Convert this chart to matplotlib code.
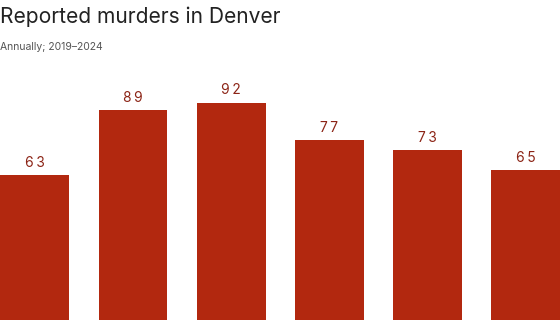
import matplotlib
matplotlib.use("Agg")
import matplotlib.pyplot as plt

# data
years = ["2019", "2020", "2021", "2022", "2023", "2024"]
murders = [63, 89, 92, 77, 73, 65]

bar_color = "#b2280f"
label_color = "#8c2416"

plt.rcParams["font.family"] = ["Inter", "DejaVu Sans"]

fig = plt.figure(figsize=(5.6, 3.2), dpi=100)
ax = fig.add_axes([0, 0, 1, 1])
ax.patch.set_alpha(0)

x = range(len(years))
bars = ax.bar(x, murders, width=0.7, color=bar_color)

# value labels, spaced out a little like the original
for rect, v in zip(bars, murders):
    ax.annotate(" ".join(str(v)).replace(" ", "\u2009"),
                (rect.get_x() + rect.get_width() / 2, v),
                xytext=(0, 4), textcoords="offset points",
                ha="center", va="bottom", fontsize=10, color=label_color)

ax.set_xlim(-0.355, 5.35)
ax.set_ylim(5.19, 133.0)
ax.axis("off")

fig.text(0.0, 1 - 23 / 320, "Reported murders in Denver", fontsize=15.1,
         color="#222222", ha="left", va="baseline")
fig.text(0.0, 1 - 50 / 320, "Annually; 2019\u20132024", fontsize=7.5,
         color="#555555", ha="left", va="baseline")

fig.savefig("out.png", dpi=100)
